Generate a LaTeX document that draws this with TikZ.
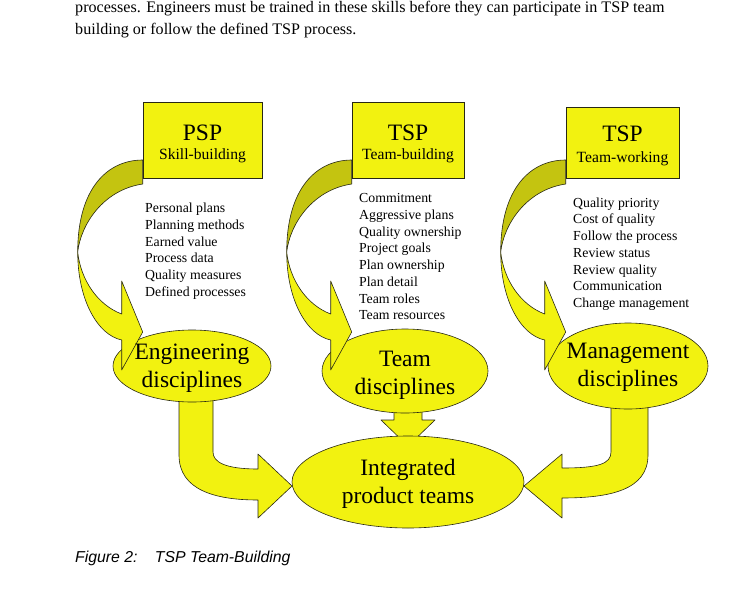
\documentclass[tikz,border=0pt]{standalone}
\usepackage{fontspec}
\setmainfont{Liberation Serif}
\newfontfamily\capfont{Liberation Sans}
\usetikzlibrary{shapes.geometric}
\definecolor{yel}{RGB}{242,242,16}
\definecolor{olv}{RGB}{196,196,16}
\definecolor{edgec}{RGB}{40,40,20}
\begin{document}
\begin{tikzpicture}[x=1pt,y=-1pt,
  shapefill/.style={fill=yel, draw=edgec, line width=0.6pt, line join=round},
  backfill/.style={fill=olv, draw=edgec, line width=0.6pt, line join=round},
  box/.style={rectangle, draw=edgec, fill=yel, line width=0.6pt, inner sep=0pt},
  disc/.style={ellipse, draw=edgec, fill=yel, line width=0.6pt, inner sep=0pt},
  disctext/.style={inner sep=0pt, align=center, font=\fontsize{23.5}{28}\selectfont},
  bigtitle/.style={anchor=base, inner sep=0pt, font=\fontsize{23.5}{28}\selectfont},
  subtitle/.style={anchor=base, inner sep=0pt, font=\fontsize{15.6}{18}\selectfont},
  lst/.style={anchor=north west, inner sep=0pt, align=left, font=\fontsize{13.8}{16.7}\selectfont},
  para/.style={anchor=base west, inner sep=0pt, font=\fontsize{16.1}{18}\selectfont},
  curvarr/.pic={
    \path[backfill] (0,160) .. controls (-35,160) and (-65,188) .. (-65,252)
      .. controls (-62,225) and (-40,190) .. (0,184) -- cycle;
    \path[shapefill] (-65,252) .. controls (-65,300) and (-45,335) .. (-21,340)
      -- (-21,370) -- (0,332) -- (-21,281) -- (-21,314)
      .. controls (-45,305) and (-62,280) .. (-65,252) -- cycle;
  }]
\useasboundingbox (0,0) rectangle (737,611);
\coordinate (o) at (0,0);

% top paragraph
\node[para] (p1) at (75,12.5) {processes. Engineers must be trained in these skills before they can participate in TSP team};
\node[para] (p2) at (75,34.5) {building or follow the defined TSP process.};

% bottom arrows
\path[shapefill] (179,395) -- (179,455) .. controls (179,490) and (215,500) .. (258,500)
  -- (258,518) -- (292,486) -- (258,454) -- (258,469)
  .. controls (225,469) and (213,462) .. (213,452) -- (213,395) -- cycle;
\path[shapefill] (611,395) -- (611,452) .. controls (611,464) and (598,468) .. (562,468)
  -- (562,454) -- (524,486) -- (562,518) -- (562,498)
  .. controls (610,498) and (648,490) .. (648,455) -- (648,395) -- cycle;
\path[shapefill] (394,405) -- (394,420) -- (381,420) -- (408,446) -- (435,420)
  -- (422,420) -- (422,405) -- cycle;

% discipline ellipses
\node[disc, minimum width=158pt, minimum height=72pt] (eng) at (192,366) {};
\node[disc, minimum width=166pt, minimum height=84pt] (team) at (405,371) {};
\node[disc, minimum width=160pt, minimum height=86pt] (mgmt) at (628,366) {};
\node[disc, minimum width=232pt, minimum height=92pt] (ipt) at (408,482) {};

% boxes
\node[box, minimum width=119pt, minimum height=76pt] (psp) at (202.5,140) {};
\node[box, minimum width=112pt, minimum height=76pt] (tspb) at (408,140) {};
\node[box, minimum width=113pt, minimum height=71pt] (tspw) at (622.5,142.5) {};

% curved arrows
\pic at (psp.west |- o) {curvarr};
\pic at (tspb.west |- o) {curvarr};
\pic at (tspw.west |- o) {curvarr};

% box titles
\node[bigtitle] (pspt) at (202.5,140) {PSP};
\node[subtitle] (psps) at (202.5,159.5) {Skill-building};
\node[bigtitle] (tspbt) at (408,140) {TSP};
\node[subtitle] (tspbs) at (408,159.5) {Team-building};
\node[bigtitle] (tspwt) at (622.5,141) {TSP};
\node[subtitle] (tspws) at (622.5,162) {Team-working};

% lists
\node[lst] (l1) at (145,203) {Personal plans\\Planning methods\\Earned value\\Process data\\Quality measures\\Defined processes};
\node[lst] (l2) at (359,193.5) {Commitment\\Aggressive plans\\Quality ownership\\Project goals\\Plan ownership\\Plan detail\\Team roles\\Team resources};
\node[lst] (l3) at (573,197.5) {Quality priority\\Cost of quality\\Follow the process\\Review status\\Review quality\\Communication\\Change management};

% ellipse texts
\node[disctext] (engt) at ([yshift=-2pt]eng.center) {Engineering\\disciplines};
\node[disctext] (teamt) at ([yshift=-4pt]team.center) {Team\\disciplines};
\node[disctext] (mgmtt) at ([yshift=-1pt]mgmt.center) {Management\\disciplines};
\node[disctext] (iptt) at ([yshift=-2pt]ipt.center) {Integrated\\product teams};

% caption
\node[anchor=base west, inner sep=0pt, font=\capfont\itshape\fontsize{15.8}{18}\selectfont] (cap) at (75,562) {Figure 2:\hspace{1.1em}TSP Team-Building};
\end{tikzpicture}
\end{document}
